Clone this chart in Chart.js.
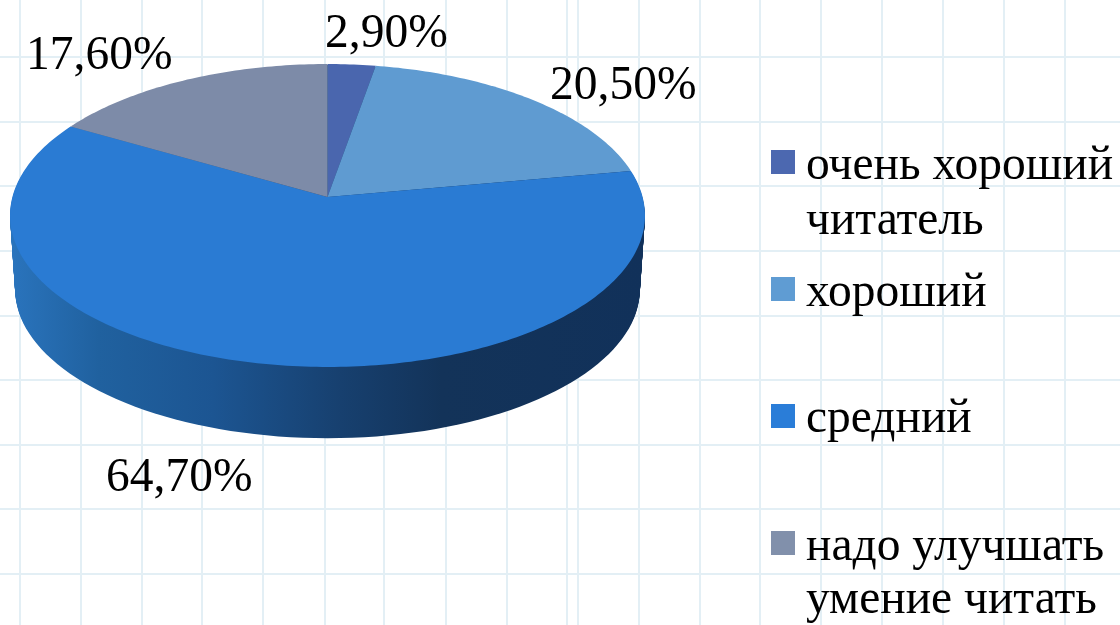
<!DOCTYPE html>
<html>
<head>
<meta charset="utf-8">
<title>Читатели</title>
<script src="https://cdn.jsdelivr.net/npm/chart.js@4"></script>
<style>
    html, body { margin: 0; padding: 0; background: #fff; }
    canvas { display: block; }
</style>
</head>
<body>
<canvas id="myPie" width="1120" height="625"></canvas>
<script>
// chart values (they add up to 105.7, the slices are normalised by the library)
const categories = ["очень хороший", "хороший", "средний", "надо улучшать"];
const secondLines = ["читатель", "", "", "умение читать"];
const values = [2.9, 20.5, 64.7, 17.6];
const sliceColors = ["#4a66ae", "#5f9bd1", "#2a7bd3", "#7d8ba8"];
const legendColors = ["#4c68b0", "#5f9cd3", "#2a7dd8", "#8190ab"];

// squared paper behind the chart
const gridX = [20, 81, 142, 202, 263, 325, 384, 446, 507, 567, 578, 639, 700, 760, 821, 882, 943, 1004, 1065];
const gridY = [57, 122, 186, 251, 316, 380, 445, 509, 574];

// where the texts go
const valueLabelX = [325, 550, 106, 26];
const valueLabelY = [47, 99, 491, 69];
const legendBoxY = [150, 277, 404, 531];
const legendLine1Y = [179, 306, 432, 560];
const legendLine2Y = [234, 0, 0, 613];

const FONT = "47.5px 'Liberation Serif'";

// tilted disc: circle point -> screen, nearer edge comes out bigger
const CX = 327.5, APEX_Y = 197, RX = 315.1, RY = 149.2, PERSP = -0.1221;
const DEPTH = 74;

function project(angle, shrink, dy) {
    const u = Math.cos(angle), v = Math.sin(angle);
    const w = 1 + PERSP * v;
    return {
        x: CX + shrink * RX * u / w,
        y: APEX_Y + dy + shrink * RY * v / w
    };
}

function wallGradient(ctx) {
    const g = ctx.createLinearGradient(10, 0, 645, 0);
    g.addColorStop(0, "#2a74bd");
    g.addColorStop(0.14, "#20619f");
    g.addColorStop(0.32, "#1c5592");
    g.addColorStop(0.52, "#17406f");
    g.addColorStop(0.68, "#133359");
    g.addColorStop(1, "#11315a");
    return g;
}

const paperPlugin = {
    id: "paper",
    beforeDraw(chart) {
        const ctx = chart.ctx;
        ctx.save();
        ctx.fillStyle = "#fff";
        ctx.fillRect(0, 0, chart.width, chart.height);
        ctx.strokeStyle = "#e3eff5";
        ctx.lineWidth = 2;
        gridX.forEach(x => {
            ctx.beginPath();
            ctx.moveTo(x, 0);
            ctx.lineTo(x, chart.height);
            ctx.stroke();
        });
        gridY.forEach(y => {
            ctx.beginPath();
            ctx.moveTo(0, y);
            ctx.lineTo(chart.width, y);
            ctx.stroke();
        });
        ctx.restore();
    }
};

// draws the arcs the library worked out, but on the tilted disc
const discPlugin = {
    id: "disc",
    beforeDatasetsDraw(chart) {
        const ctx = chart.ctx;
        const arcs = chart.getDatasetMeta(0).data;
        ctx.save();

        // side wall, stacked copies of the rim going down
        ctx.fillStyle = wallGradient(ctx);
        for (let d = DEPTH; d > 0; d--) {
            const shrink = 1 - 0.016 * d / DEPTH;
            ctx.beginPath();
            for (let i = 0; i <= 180; i++) {
                const p = project(i / 180 * Math.PI * 2, shrink, d);
                ctx.lineTo(p.x, p.y);
            }
            ctx.closePath();
            ctx.fill();
        }

        // top face
        arcs.forEach((arc, idx) => {
            ctx.fillStyle = sliceColors[idx];
            ctx.beginPath();
            ctx.moveTo(CX, APEX_Y);
            const steps = Math.ceil((arc.endAngle - arc.startAngle) * 60);
            for (let i = 0; i <= steps; i++) {
                const a = arc.startAngle + (arc.endAngle - arc.startAngle) * i / steps;
                const p = project(a, 1, 0);
                ctx.lineTo(p.x, p.y);
            }
            ctx.closePath();
            ctx.fill();
        });
        ctx.restore();
        return false;
    }
};

const textPlugin = {
    id: "texts",
    afterDraw(chart) {
        const ctx = chart.ctx;
        ctx.save();
        ctx.font = FONT;
        ctx.fillStyle = "#000";
        ctx.textBaseline = "alphabetic";
        values.forEach((v, i) => {
            ctx.fillText(v.toFixed(2).replace(".", ",") + "%", valueLabelX[i], valueLabelY[i]);
        });
        categories.forEach((name, i) => {
            ctx.fillStyle = legendColors[i];
            ctx.fillRect(771, legendBoxY[i], 24, 24);
            ctx.fillStyle = "#000";
            ctx.fillText(name, 806, legendLine1Y[i]);
            if (secondLines[i]) {
                ctx.fillText(secondLines[i], 806, legendLine2Y[i]);
            }
        });
        ctx.restore();
    }
};

new Chart("myPie", {
    type: "pie",
    data: {
        labels: categories,
        datasets: [{
            backgroundColor: sliceColors,
            borderWidth: 0,
            data: values
        }]
    },
    options: {
        responsive: false,
        animation: false,
        devicePixelRatio: 1,
        plugins: {
            legend: { display: false },
            tooltip: { enabled: false }
        }
    },
    plugins: [paperPlugin, discPlugin, textPlugin]
});
</script>
</body>
</html>
